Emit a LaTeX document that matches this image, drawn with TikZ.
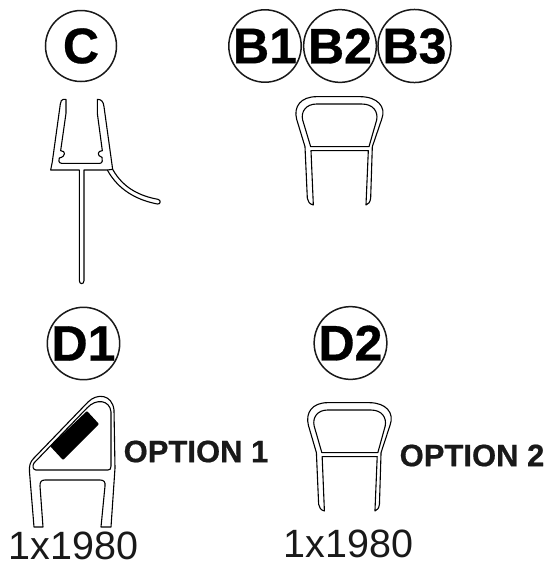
\documentclass[tikz,border=0pt]{standalone}
\usepackage{fontspec}
\setmainfont[BoldFeatures={FakeBold=0.6}]{Liberation Sans}
\tikzset{
  badge/.style={draw=black!90,circle,line width=1.5pt,minimum size=71pt,inner sep=0pt,font=\fontsize{50}{50}\selectfont\bfseries},
  qty/.style={font=\fontsize{39.5}{40}\selectfont,inner sep=0pt,text=black!90},
  opt/.style={font=\fontsize{31}{32}\selectfont\bfseries,inner sep=0pt,text=black!90},
  outline/.style={draw=black,line width=1.1pt,line join=round}
}
\newcommand{\uprofile}{%
  \draw[outline] (100,345) .. controls (88,342) and (84,335) .. (82,325) -- (75,170) -- (50,88)
    .. controls (40,50) and (62,20) .. (110,20) -- (240,20)
    .. controls (292,20) and (320,50) .. (305,88) -- (277,170) -- (272,325)
    .. controls (270,337) and (266,342) .. (258,345) -- (265,182) -- (93,182) -- cycle;
  \draw[outline] (92,170) -- (68,90) .. controls (62,65) and (78,42) .. (110,42) -- (245,42)
    .. controls (280,42) and (295,65) .. (290,90) -- (267,170) -- cycle;
}
\begin{document}
\begin{tikzpicture}[x=1pt,y=-1pt]
\useasboundingbox (0,0) rectangle (550,563);
% badges
\node[badge] (c) at (81,46) {C};
\node[badge] (b1) at (265,46) {B1};
\node[badge] (b2) at (340,46) {B2};
\node[badge] (b3) at (414.5,46) {B3};
\node[badge] (d1) at (83.5,343.5) {D1};
\node[badge] (d2) at (350.5,343) {D2};
% profile C
\begin{scope}[shift={(20,90)},x=0.3333pt,y=-0.3333pt]
  \draw[outline] (138,28) -- (130,28) .. controls (125,28) and (122,34) .. (121,42)
    -- (97,215) -- (92,240) -- (178,240) -- (178,572)
    .. controls (178,584) and (192,584) .. (192,572) -- (192,240) -- (262,240)
    .. controls (295,300) and (350,330) .. (412,342)
    .. controls (422,344) and (424,330) .. (414,328)
    .. controls (360,318) and (310,295) .. (278,238)
    -- (252,50) .. controls (250,35) and (245,28) .. (232,28)
    -- (232,70) -- (247,182)
    .. controls (232,182) and (230,198) .. (246,202)
    .. controls (248,208) and (248,220) .. (240,220)
    -- (125,220) .. controls (115,220) and (115,208) .. (118,204)
    .. controls (138,200) and (138,182) .. (122,182)
    -- (138,70) -- cycle;
  \draw[outline] (262,240) -- (278,238);
\end{scope}
% profile B
\begin{scope}[shift={(280,90)},x=0.3333pt,y=-0.3333pt]
  \uprofile
\end{scope}
% profile D2
\begin{scope}[shift={(292.4,396)},x=0.32pt,y=-0.3333pt]
  \uprofile
\end{scope}
% profile D1
\draw[outline] (34,527) -- (29.5,472) .. controls (29,466) and (30,462) .. (34,458)
  -- (88,402) .. controls (97,393) and (112,394) .. (114,410)
  -- (115,468) -- (111,527) -- (101,527) -- (105,486)
  .. controls (105.5,482) and (104,480) .. (100,480)
  -- (45,480) .. controls (41,480) and (40,482) .. (40,486) -- (43,527) -- cycle;
\draw[outline] (36,470) .. controls (33,470) and (32,466) .. (34,463)
  -- (87,408) .. controls (96,398) and (110,400) .. (111,412)
  -- (111,466) .. controls (111,469) and (110,470) .. (108,470) -- cycle;
\fill[black,rounded corners=1pt] (87,411) -- (99,424) -- (63,460) -- (50,446) -- cycle;
% texts
\node[opt] (o1) at (196,451.5) {OPTION 1};
\node[opt] (o2) at (472,455.5) {OPTION 2};
\node[qty] (q1) at (73.5,546) {1x1980};
\node[qty] (q2) at (348.5,544) {1x1980};
\end{tikzpicture}
\end{document}
